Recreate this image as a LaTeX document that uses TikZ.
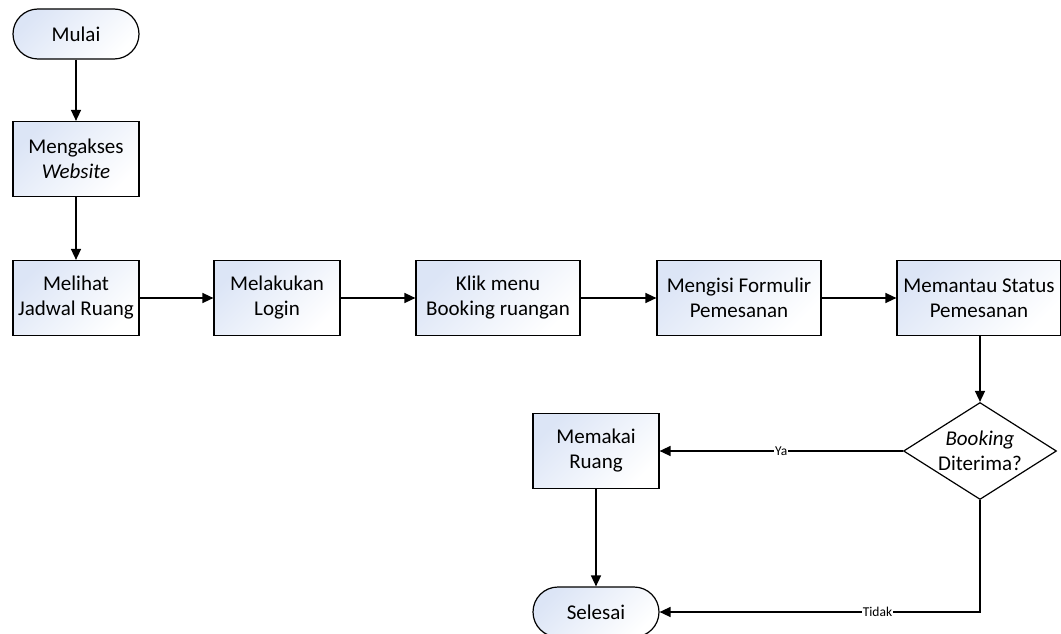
\documentclass[tikz,border=0pt]{standalone}
\usepackage{fontspec}
\setmainfont{Carlito}
\usetikzlibrary{arrows.meta,shapes.geometric}
\definecolor{boxtint}{RGB}{220,229,246}
\tikzset{
  base/.style={draw=black, line width=1.2pt, align=center, inner sep=0pt,
    font=\fontsize{21}{25}\selectfont,
    top color=boxtint, bottom color=white, shading angle=45},
  procbox/.style={base, minimum width=126pt, minimum height=75pt},
  widebox/.style={procbox, minimum width=164pt},
  terminal/.style={base, minimum width=126pt, minimum height=50pt, rounded corners=25pt},
  decision/.style={base, diamond, minimum width=153pt, minimum height=97pt, fill=white, shade=none},
  flow/.style={line width=1.5pt, -{Triangle[length=11pt,width=10pt]}},
  edgelabel/.style={fill=white, inner sep=1pt, font=\fontsize{13.5}{15}\selectfont}
}
\begin{document}
\begin{tikzpicture}[x=1pt,y=-1pt]
\useasboundingbox (0,0) rectangle (1061,634);
\node[terminal] (mulai) at (76,34) {Mulai};
\node[procbox] (akses) at (76,159) {Mengakses\\\textit{Website}};
\node[procbox] (lihat) at (76,298) {Melihat\\Jadwal Ruang};
\node[procbox] (login) at (277,298) {Melakukan\\Login};
\node[widebox] (klik) at (498,298) {Klik menu\\Booking ruangan};
\node[widebox] (isi) at (739,298) {Mengisi Formulir\\Pemesanan};
\node[widebox] (pantau) at (979,298) {Memantau Status\\Pemesanan};
\node[decision] (cek) at (980,451) {};
\node[align=center, font=\fontsize{21}{25}\selectfont, inner sep=0pt] (cektext) at (cek.center) {\textit{Booking}\\Diterima?};
\node[procbox] (pakai) at (596,451) {Memakai\\Ruang};
\node[terminal] (selesai) at (596,612) {Selesai};

\draw[flow] (mulai) -- (akses);
\draw[flow] (akses) -- (lihat);
\draw[flow] (lihat) -- (login);
\draw[flow] (login) -- (klik);
\draw[flow] (klik) -- (isi);
\draw[flow] (isi) -- (pantau);
\draw[flow] (pantau.south -| cek.north) -- (cek.north);
\draw[flow] (cek.west) -- node[edgelabel, pos=0.5] {Ya} (pakai.east);
\draw[flow] (pakai) -- (selesai);
\draw[flow] (cek.south) |- node[edgelabel, pos=0.66] {Tidak} (selesai.east);
\end{tikzpicture}
\end{document}
